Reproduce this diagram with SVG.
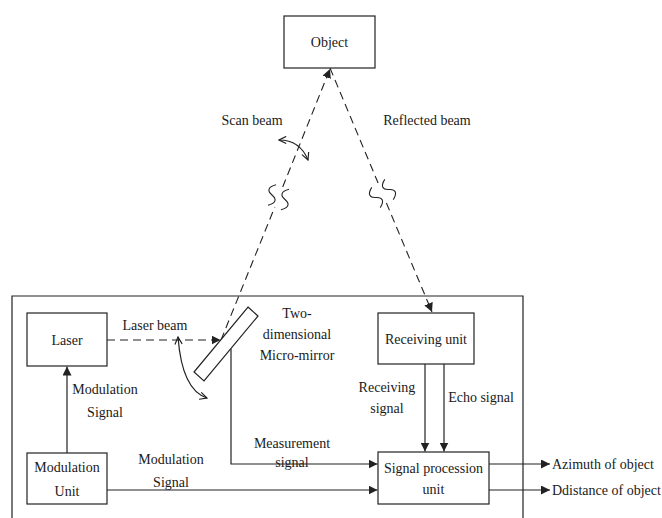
<svg xmlns="http://www.w3.org/2000/svg" xmlns:xlink="http://www.w3.org/1999/xlink" width="662" height="518" viewBox="0 0 662 518">
  <style>
    .box { fill: #ffffff; stroke: #222222; stroke-width: 1.2; }
    .line { fill: none; stroke: #222222; stroke-width: 1.2; }
    .dash { fill: none; stroke: #222222; stroke-width: 1.1; stroke-dasharray: 8 5; }
    .wave { fill: none; stroke: #222222; stroke-width: 1.1; }
    .t { font-family: "Times New Roman", Times, "Liberation Serif", Tinos, "Noto Serif", "DejaVu Serif", FreeSerif, serif; font-size: 14px; fill: #1a1a1a; text-anchor: middle; dominant-baseline: central; }
    .t.left { text-anchor: start; }
  </style>
  <defs>
    <marker id="arrow" viewBox="0 0 10 10" refX="10" refY="5" markerWidth="9" markerHeight="9" markerUnits="userSpaceOnUse" orient="auto">
      <path d="M0,0 L10,5 L0,10 z" fill="#222222"/>
    </marker>
    <marker id="open" viewBox="0 0 10 10" refX="9" refY="5" markerWidth="9" markerHeight="9" markerUnits="userSpaceOnUse" orient="auto-start-reverse">
      <path d="M1,1 L9,5 L1,9" fill="none" stroke="#222222" stroke-width="1.3"/>
    </marker>
    <!-- break symbol: one wavy stroke, drawn along the beam -->
    <path id="wave" d="M0,-11 C-7,-6 -6,-2 0,0 S7,6 0,11"/>
  </defs>

  <!-- system frame (open at the bottom) -->
  <path class="line" d="M12,518 V296 H523 V518"/>

  <g id="connectors">
    <!-- scan beam: mirror to object, with break -->
    <path class="dash" d="M221,340 L274.8,207"/>
    <path class="dash" d="M282.7,187 L330,69" marker-end="url(#arrow)"/>
    <g class="wave">
      <use xlink:href="#wave" transform="translate(272,195) rotate(21.7)"/>
      <use xlink:href="#wave" transform="translate(285,199.5) rotate(21.7)"/>
    </g>
    <!-- reflected beam: object to receiving unit, with break -->
    <path class="dash" d="M330,68 L378.1,183"/>
    <path class="dash" d="M386.4,203 L432,312" marker-end="url(#arrow)"/>
    <g class="wave">
      <use xlink:href="#wave" transform="translate(376,197.5) rotate(-22.7)"/>
      <use xlink:href="#wave" transform="translate(389,189.5) rotate(-22.7)"/>
    </g>
    <!-- scan sweep -->
    <path class="line" d="M279,140 Q300,140 308,160" marker-start="url(#open)" marker-end="url(#open)"/>
    <!-- mirror tilt -->
    <path class="line" d="M178,337 Q182,390 207,398" marker-start="url(#open)" marker-end="url(#open)"/>

    <!-- laser beam -->
    <path class="dash" d="M107,340 H220.5" marker-end="url(#arrow)"/>
    <!-- modulation unit to laser -->
    <path class="line" d="M67,453 V366.5" marker-end="url(#arrow)"/>
    <!-- measurement signal -->
    <path class="line" d="M231,349 V464 H377.5" marker-end="url(#arrow)"/>
    <!-- modulation unit to signal procession -->
    <path class="line" d="M107,490 H377.5" marker-end="url(#arrow)"/>
    <!-- receiving unit to signal procession -->
    <path class="line" d="M425,364 V451.5" marker-end="url(#arrow)"/>
    <path class="line" d="M444,364 V451.5" marker-end="url(#arrow)"/>
    <!-- outputs -->
    <path class="line" d="M489,464 H550" marker-end="url(#arrow)"/>
    <path class="line" d="M489,490 H550" marker-end="url(#arrow)"/>

    <!-- connector labels -->
    <text class="t" x="252" y="120">Scan beam</text>
    <text class="t" x="427" y="120">Reflected beam</text>
    <text class="t" x="155" y="325">Laser beam</text>
    <text class="t" x="297" y="313">Two-</text>
    <text class="t" x="297" y="334">dimensional</text>
    <text class="t" x="297" y="355">Micro-mirror</text>
    <text class="t" x="105" y="389">Modulation</text>
    <text class="t" x="105" y="412">Signal</text>
    <text class="t" x="171" y="459">Modulation</text>
    <text class="t" x="171" y="482">Signal</text>
    <text class="t" x="292" y="443">Measurement</text>
    <text class="t" x="292" y="462">signal</text>
    <text class="t" x="387" y="387">Receiving</text>
    <text class="t" x="387" y="408">signal</text>
    <text class="t" x="481" y="397">Echo signal</text>
    <text class="t left" x="552" y="464">Azimuth of object</text>
    <text class="t left" x="552" y="490">Ddistance of object</text>
  </g>

  <g id="object">
    <rect class="box" x="284" y="16" width="91" height="52"/>
    <text class="t" x="329.5" y="42">Object</text>
  </g>

  <g id="laser">
    <rect class="box" x="27" y="313" width="80" height="53"/>
    <text class="t" x="67" y="340">Laser</text>
  </g>

  <g id="micro-mirror">
    <polygon class="box" points="248,307 258,316 204,381 194,372"/>
  </g>

  <g id="receiving-unit">
    <rect class="box" x="378" y="313" width="96" height="51"/>
    <text class="t" x="426" y="339">Receiving unit</text>
  </g>

  <g id="modulation-unit">
    <rect class="box" x="27" y="453" width="80" height="51"/>
    <text class="t" x="67" y="467">Modulation</text>
    <text class="t" x="67" y="491">Unit</text>
  </g>

  <g id="signal-procession-unit">
    <rect class="box" x="378" y="452" width="111" height="52"/>
    <text class="t" x="433.5" y="468">Signal procession</text>
    <text class="t" x="433.5" y="489">unit</text>
  </g>
</svg>
